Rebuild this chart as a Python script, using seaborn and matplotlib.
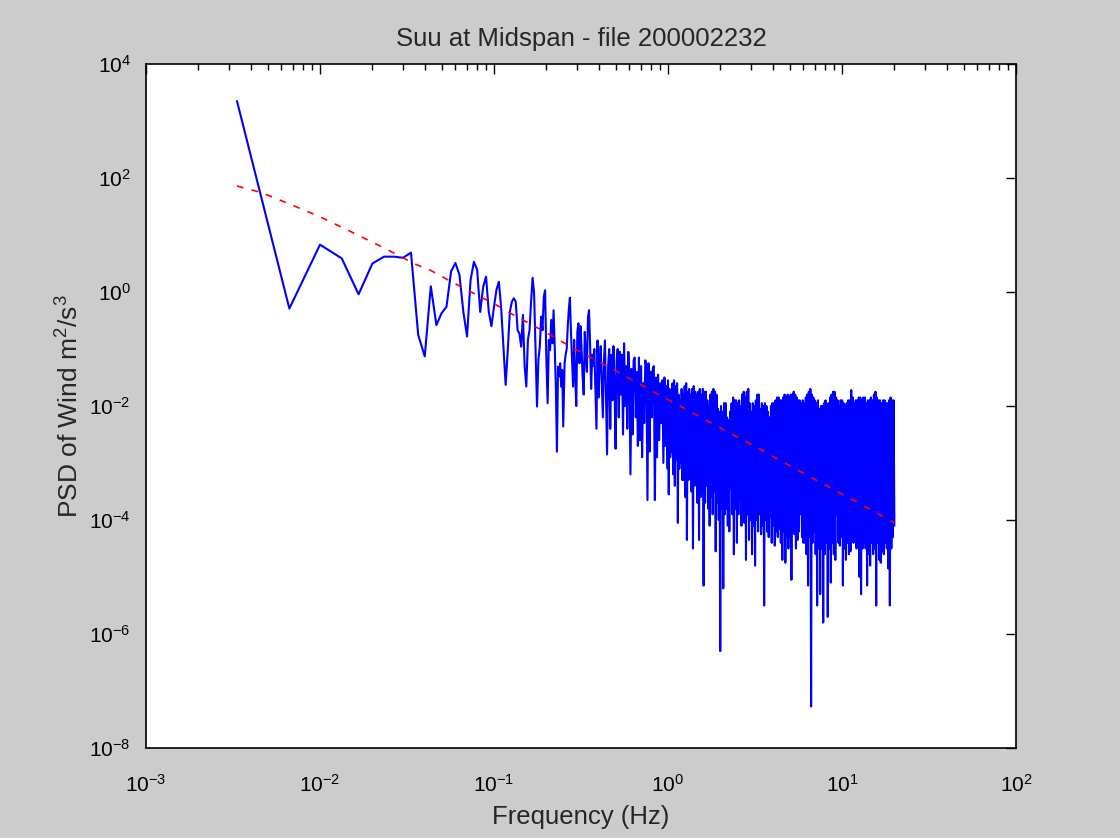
import numpy as np
import pandas as pd
import matplotlib
matplotlib.use("Agg")
import matplotlib.pyplot as plt
import seaborn as sns
from matplotlib.ticker import FixedLocator, NullLocator, LogFormatterSciNotation

sns.set_style("white")
plt.rcParams["font.family"] = ["Liberation Sans", "DejaVu Sans"]
plt.rcParams["mathtext.fontset"] = "custom"
plt.rcParams["mathtext.rm"] = "Liberation Sans"
plt.rcParams["mathtext.it"] = "Liberation Sans:italic"
plt.rcParams["mathtext.bf"] = "Liberation Sans:bold"

# --- measured spectrum -------------------------------------------------------
record_seconds = 300.0           # 5-minute record -> bin spacing 1/300 Hz
low_bins = np.arange(1, 76)      # first 75 FFT bins, one value each

# log10 PSD for bins 1..75
log_psd_low = [
    3.35, -0.29, 0.83, 0.59, -0.04, 0.50, 0.62, 0.62, 0.60, 0.69,
    -0.75, -1.13, 0.10, -0.58, -0.37, -0.26, 0.36, 0.51, 0.30, -0.35,
    -0.78, 0.21, 0.53, 0.39, -0.35, 0.09, 0.27, -0.35, -0.60, -0.26,
    0.04, 0.18, -0.29, -0.96, -1.63, -1.02, -0.35, -0.17, -0.11, -0.17,
    -0.67, -0.73, -0.96, -0.40, -1.30, -1.66, -0.84, -0.67, -0.17, 0.25,
    -0.02, -1.02, -2.01, -1.19, -0.96, -0.43, -0.67, -0.08, 0.03, -1.19,
    -1.95, -0.84, -1.02, -0.49, -0.90, -0.32, -0.96, -1.66, -2.80, -1.31,
    -1.48, -1.25, -1.66, -1.37, -2.36,
]

# log10 PSD, 0.25 Hz to 1 Hz (log-spaced samples)
log_psd_mid = [
    -1.25, -1.1, -1.0, -0.6, -0.3, -0.1, -0.7, -1.2, -1.66, -0.84, -1.5, -2.0, -0.7, -0.55,
    -1.25, -0.6, -1.0, -1.5, -1.8, -0.7, -1.1, -1.4, -0.45, -0.32, -0.9, -1.7, -1.1, -1.3,
    -1.0, -1.7, -2.4, -0.85, -1.85, -1.25, -0.95, -1.6, -2.2, -1.25, -0.85, -1.9, -2.85, -1.3,
    -1.0, -2.4, -1.1, -1.9, -0.95, -1.6, -2.75, -1.2, -1.0, -2.2, -1.05, -1.8, -1.1, -2.5,
    -0.9, -2.0, -1.3, -2.4, -1.05, -1.4, -3.2, -1.35, -2.5, -1.2, -1.15, -2.2, -1.4, -2.7,
    -1.15, -2.6, -1.3, -2.9, -1.6, -2.3, -1.2, -1.3, -3.65, -1.25, -2.8, -1.4, -2.2, -1.35,
    -1.3, -3.65, -1.5, -2.9, -1.45, -2.6, -1.6, -2.3, -1.55, -3.0, -1.5, -2.7, -1.65, -3.1,
]

# log10 PSD, 1 Hz to 20 Hz (log-spaced samples of the dense band)
log_psd_high = [
    -1.55, -3.55, -1.7, -2.9, -1.75, -2.8, -1.6, -3.2, -1.55, -3.4, -1.65, -2.95, -1.6, -4.05, -1.8, -3.1, -1.9, -3.0, -1.7, -3.3,
    -1.8, -3.3, -1.65, -3.6, -1.6, -4.35, -1.75, -3.3, -1.7, -3.25, -1.8, -3.5, -1.7, -4.5, -1.65, -3.4, -1.75, -3.2, -1.8, -3.7,
    -1.75, -4.35, -1.7, -3.6, -1.8, -3.5, -1.7, -5.15, -1.75, -3.7, -1.75, -3.4, -1.9, -3.8, -2.0, -4.1, -1.8, -3.6, -1.75, -3.9,
    -1.7, -3.5, -1.75, -4.55, -1.8, -3.7, -2.05, -4.0, -2.1, -6.3, -2.0, -3.8, -2.1, -5.2, -1.95, -3.9, -1.95, -3.8, -2.2, -4.1,
    -2.25, -4.2, -2.1, -3.45, -1.95, -3.9, -1.85, -4.6, -1.9, -3.8, -1.9, -4.4, -1.95, -3.9, -1.9, -3.65, -2.0, -4.1, -1.8, -3.9,
    -1.75, -4.05, -1.85, -4.7, -1.75, -3.9, -1.7, -4.35, -1.95, -4.0, -2.1, -4.6, -1.95, -4.1, -2.0, -4.8, -1.9, -4.0, -1.8, -4.2,
    -1.8, -3.9, -2.05, -4.25, -1.95, -4.1, -2.0, -5.5, -1.95, -4.0, -2.0, -4.2, -2.1, -4.3, -2.2, -3.95, -2.0, -4.4, -1.95, -4.1,
    -1.95, -4.45, -1.9, -4.2, -1.85, -4.3, -1.85, -4.15, -1.9, -4.4, -1.9, -4.7, -1.85, -4.2, -1.8, -4.75, -1.85, -4.3, -1.8, -4.5,
    -1.85, -4.3, -1.8, -5.05, -1.8, -4.2, -1.75, -4.25, -1.8, -4.5, -1.85, -4.35, -1.9, -4.2, -1.9, -3.9, -1.95, -4.3, -1.9, -4.4,
    -1.95, -4.4, -1.85, -4.6, -1.8, -5.15, -1.75, -4.3, -1.7, -7.27, -1.8, -4.4, -1.85, -4.2, -1.9, -4.6, -1.95, -5.5, -1.9, -4.5,
    -2.05, -5.3, -2.0, -4.5, -2.0, -5.8, -1.95, -4.6, -1.9, -4.4, -2.0, -5.7, -1.95, -4.5, -1.85, -5.1, -1.8, -4.4, -1.75, -4.6,
    -1.75, -4.7, -1.85, -3.9, -1.9, -4.4, -2.0, -4.45, -1.9, -4.3, -1.9, -5.15, -1.95, -4.5, -2.0, -4.7, -1.95, -4.4, -1.9, -4.6,
    -1.9, -4.55, -1.72, -3.85, -1.85, -4.4, -1.95, -4.3, -1.9, -4.5, -1.9, -4.4, -1.85, -5.0, -1.85, -5.3, -1.9, -4.5, -1.85, -4.4,
    -1.85, -4.5, -1.95, -5.15, -1.9, -4.6, -1.9, -4.8, -1.85, -4.4, -1.9, -4.6, -1.8, -4.5, -1.75, -5.5, -1.85, -4.4, -1.9, -4.7,
    -1.9, -4.75, -1.95, -4.55, -1.9, -4.6, -1.9, -4.4, -1.95, -4.5, -1.95, -4.85, -1.9, -5.5, -1.85, -4.5, -1.9, -4.3, -1.9, -4.1,
]

# --- model spectrum (red dashed) ---------------------------------------------
model_log_freq = [-2.477, -2.333, -2.172, -2.0, -1.81, -1.617, -1.454, -1.368,
                  -1.263, -1.1, -0.985, -0.889, -0.707, -0.525, -0.343, -0.065,
                  0.232, 0.519, 0.778, 1.065, 1.301]
model_log_psd = [1.86, 1.74, 1.54, 1.32, 1.04, 0.75, 0.49, 0.386,
                 0.21, -0.05, -0.23, -0.40, -0.70, -1.02, -1.31, -1.78,
                 -2.27, -2.74, -3.18, -3.65, -4.05]

# --- axis ticks ----------------------------------------------------------------
x_decades = [1e-3, 1e-2, 1e-1, 1e0, 1e1, 1e2]
y_ticks = [1e-8, 1e-6, 1e-4, 1e-2, 1e0, 1e2, 1e4]

freq_mid = np.geomspace(0.2545, 0.995, len(log_psd_mid))
freq_high = np.geomspace(1.0, 20.0, len(log_psd_high))
measured = pd.DataFrame({
    "freq": np.concatenate([low_bins / record_seconds, freq_mid, freq_high]),
    "psd": 10.0 ** np.concatenate([log_psd_low, log_psd_mid, log_psd_high]),
})
model = pd.DataFrame({
    "freq": 10.0 ** np.array(model_log_freq),
    "psd": 10.0 ** np.array(model_log_psd),
})

fig = plt.figure(figsize=(11.2, 8.38), dpi=100, facecolor=(0.8, 0.8, 0.8))
ax = fig.add_axes([146 / 1120, 90 / 838, 870 / 1120, 684 / 838])
ax.set_facecolor("white")

sns.lineplot(data=measured, x="freq", y="psd", ax=ax, color=(0, 0, 1),
             linewidth=1.5, estimator=None, sort=False)
sns.lineplot(data=model, x="freq", y="psd", ax=ax, color=(1, 0, 0),
             linewidth=1.2, estimator=None, sort=False, linestyle=(0, (4, 5)))

ax.set_xscale("log")
ax.set_yscale("log")
ax.set_xlim(x_decades[0], x_decades[-1])
ax.set_ylim(y_ticks[0], y_ticks[-1])

minor_x = [m * d for d in x_decades[:-1] for m in range(2, 10)]
ax.xaxis.set_major_locator(FixedLocator(x_decades))
ax.xaxis.set_minor_locator(FixedLocator(minor_x))
ax.xaxis.set_major_formatter(LogFormatterSciNotation(base=10))
ax.yaxis.set_major_locator(FixedLocator(y_ticks))
ax.yaxis.set_minor_locator(NullLocator())
ax.yaxis.set_major_formatter(LogFormatterSciNotation(base=10))

ax.tick_params(which="both", direction="in", top=True, right=True,
               colors="black", width=1.0)
ax.tick_params(which="major", length=7, labelsize=15)
ax.tick_params(axis="x", which="major", pad=19)
ax.tick_params(axis="y", which="major", pad=11)
ax.tick_params(which="minor", length=4)
for side in ax.spines.values():
    side.set_color("black")
    side.set_linewidth(1.2)

ax.set_title("Suu at Midspan - file 200002232", fontsize=18.5, pad=13)
ax.set_xlabel("Frequency (Hz)", fontsize=18.5)
ax.set_ylabel("PSD of Wind m$^2$/s$^3$", fontsize=19)
ax.xaxis.set_label_coords(0.5, -0.083)
ax.yaxis.set_label_coords(-0.072, 0.5)

fig.savefig("out.png", dpi=100, facecolor=fig.get_facecolor())
